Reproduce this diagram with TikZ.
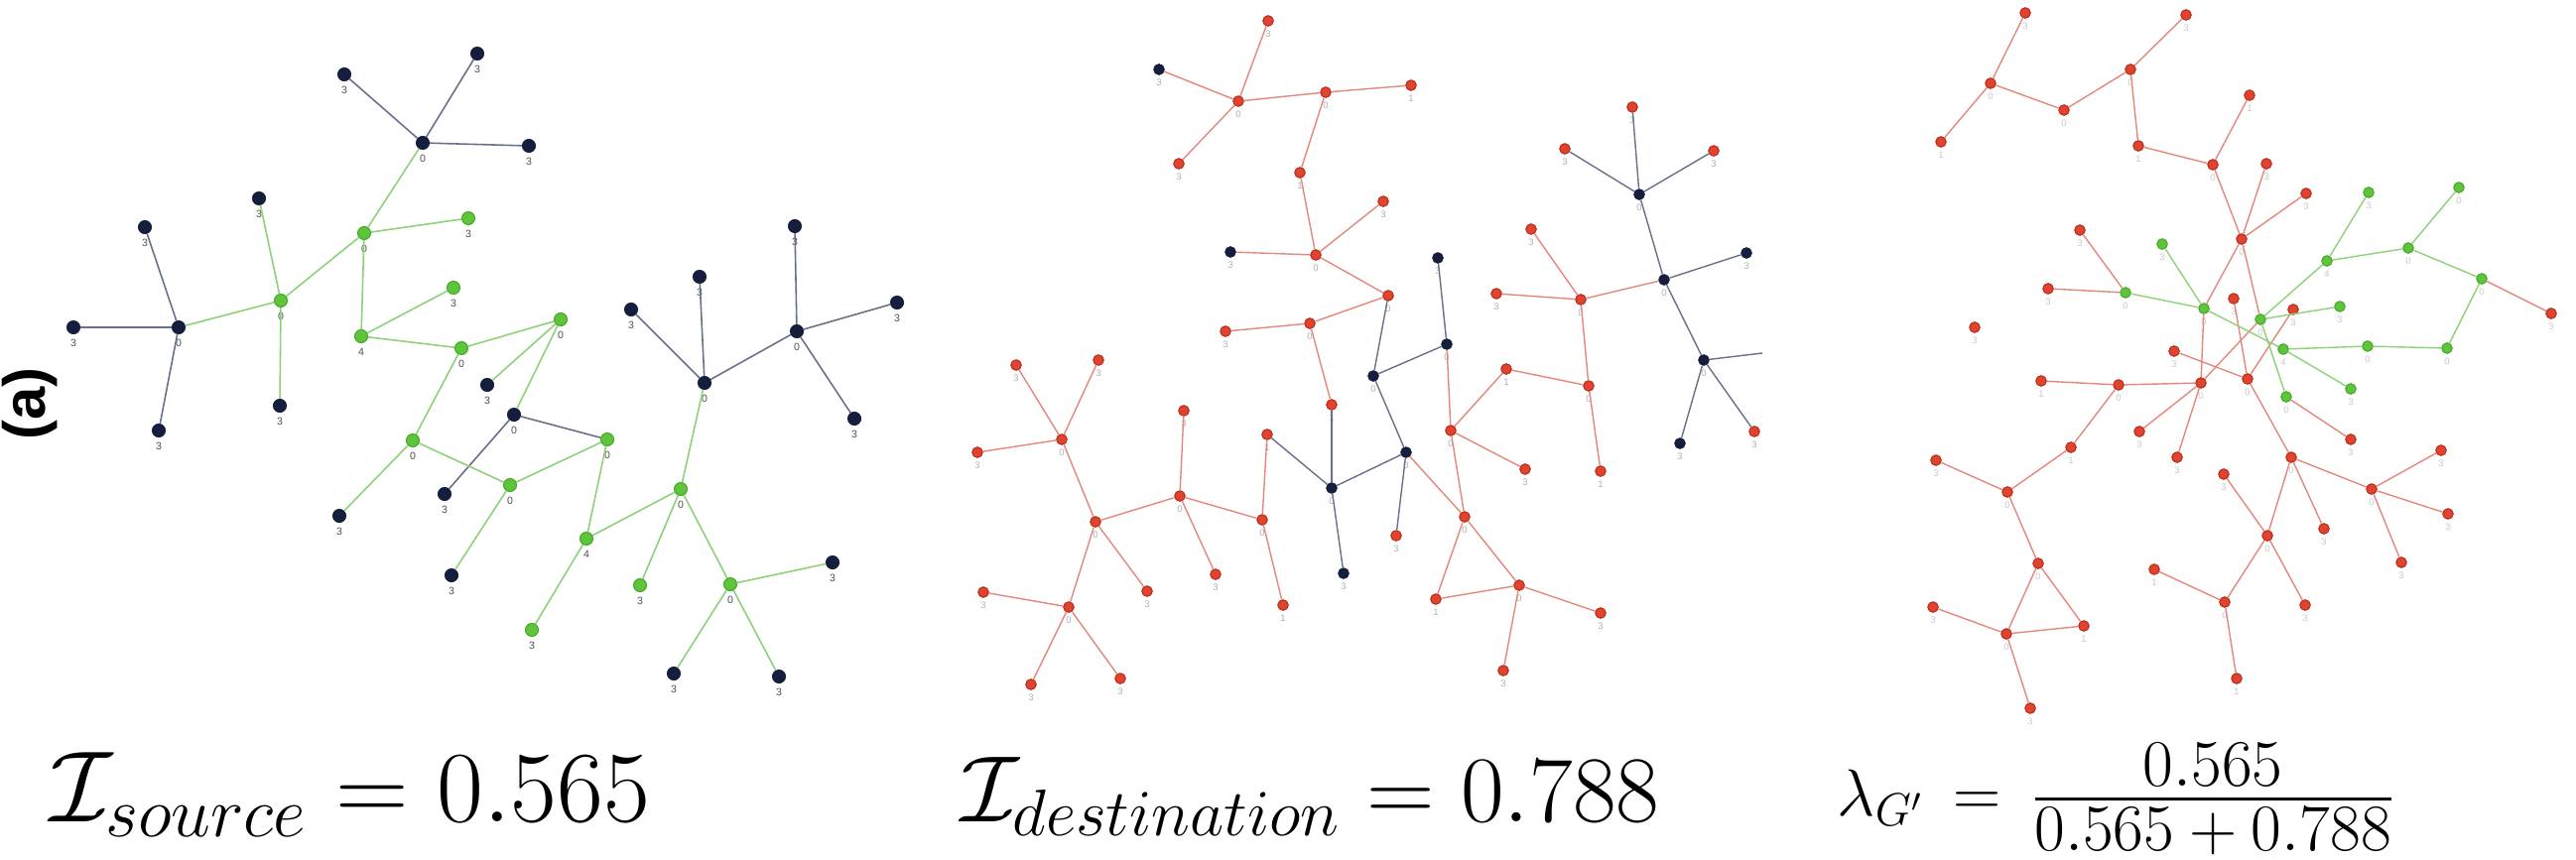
\RequirePackage{fix-cm}
\documentclass[tikz,border=0pt]{standalone}
\usepackage{amsmath}
\usepackage{fontspec}
\newfontfamily\tagfont{Liberation Sans}
\definecolor{nodenavy}{RGB}{22,30,62}
\definecolor{nodegreen}{RGB}{94,196,60}
\definecolor{rimgreen}{RGB}{70,168,42}
\definecolor{nodered}{RGB}{224,68,46}
\definecolor{rimred}{RGB}{186,44,28}
\definecolor{edgeslate}{RGB}{105,112,140}
\definecolor{edgegreen}{RGB}{140,210,120}
\definecolor{edgered}{RGB}{228,136,126}
\definecolor{tagdark}{RGB}{80,80,80}
\definecolor{taglight}{RGB}{175,175,175}
\definecolor{tagpale}{RGB}{200,200,200}
\tikzset{
x=0.01cm, y=-0.01cm, % one unit is one pixel of the figure, y runs downwards
every label/.style={font=\tagfont\fontsize{3}{3}\selectfont, text=tagdark, inner sep=0pt}, % the small count under each node
label distance=0.045cm,
bignavy/.style={circle, inner sep=0pt, minimum size=0.13cm, fill=nodenavy, draw=nodenavy, line width=0.3pt}, % nodes of the source graph
biggreen/.style={bignavy, fill=nodegreen, draw=rimgreen},
navydot/.style={circle, inner sep=0pt, minimum size=0.105cm, fill=nodenavy, draw=nodenavy, line width=0.3pt}, % nodes of the other two graphs
reddot/.style={navydot, fill=nodered, draw=rimred},
greendot/.style={navydot, fill=nodegreen, draw=rimgreen},
navyedge/.style={draw=edgeslate, line width=0.45pt},
greenedge/.style={draw=edgegreen, line width=0.45pt},
rededge/.style={draw=edgered, line width=0.4pt},
formula/.style={inner sep=0pt, anchor=base west},
}

\begin{document}
\begin{tikzpicture}
\useasboundingbox (0,0) rectangle (2596,866);

\node[rotate=90, font=\tagfont\bfseries\fontsize{17}{20}\selectfont] (tag) at (30,407) {(a)};

% source graph
\node[bignavy, label=below:3] (a1) at (481,54) {};
\node[bignavy, label=below:3] (a2) at (347,75) {};
\node[bignavy, label=below:0] (a3) at (426,144) {};
\node[bignavy, label=below:3] (a4) at (533,147) {};
\node[bignavy, label=below:3] (a5) at (261,200) {};
\node[biggreen, label=below:0] (a6) at (367,235) {};
\node[biggreen, label=below:3] (a7) at (472,220) {};
\node[bignavy, label=below:3] (a8) at (146,229) {};
\node[bignavy, label=below:0] (a9) at (180,330) {};
\node[bignavy, label=below:3] (a10) at (74,330) {};
\node[biggreen, label=below:0] (a11) at (283,303) {};
\node[biggreen, label=below:3] (a12) at (457,290) {};
\node[biggreen, label=below:4] (a13) at (364,339) {};
\node[biggreen, label=below:0] (a14) at (465,351) {};
\node[bignavy, label=below:3] (a15) at (160,434) {};
\node[bignavy, label=below:3] (a16) at (282,409) {};
\node[biggreen, label=below:0] (a17) at (565,322) {};
\node[bignavy, label=below:3] (a18) at (636,312) {};
\node[bignavy, label=below:3] (a19) at (705,279) {};
\node[bignavy, label=below:3] (a20) at (801,228) {};
\node[bignavy, label=below:0] (a21) at (803,334) {};
\node[bignavy, label=below:3] (a22) at (904,305) {};
\node[bignavy, label=below:0] (a23) at (710,386) {};
\node[bignavy, label=below:3] (a24) at (861,422) {};
\node[bignavy, label=below:3] (a25) at (491,388) {};
\node[bignavy, label=below:0] (a26) at (518,418) {};
\node[biggreen, label=below:0] (a27) at (612,443) {};
\node[biggreen, label=below:0] (a28) at (514,489) {};
\node[biggreen, label=below:4] (a29) at (591,543) {};
\node[biggreen, label=below:0] (a30) at (686,493) {};
\node[biggreen, label=below:3] (a31) at (645,590) {};
\node[biggreen, label=below:3] (a32) at (536,635) {};
\node[biggreen, label=below:0] (a33) at (736,589) {};
\node[bignavy, label=below:3] (a34) at (839,567) {};
\node[bignavy, label=below:3] (a35) at (679,679) {};
\node[bignavy, label=below:3] (a36) at (785,682) {};
\node[biggreen, label=below:0] (a37) at (416,444) {};
\node[bignavy, label=below:3] (a38) at (342,520) {};
\node[bignavy, label=below:3] (a39) at (455,580) {};
\node[bignavy, label=below:3] (a40) at (448,498) {};

\draw[navyedge] (a1) edge (a3) (a2) edge (a3) (a3) edge (a4)
  (a8) edge (a9) (a10) edge (a9) (a9) edge (a15)
  (a23) edge (a18) (a23) edge (a19) (a23) edge (a21)
  (a21) edge (a20) (a21) edge (a22) (a21) edge (a24)
  (a26) edge (a27) (a26) edge (a40);
\draw[greenedge] (a3) edge (a6) (a6) edge (a7) (a6) edge (a11)
  (a11) edge (a5) (a11) edge (a9) (a11) edge (a16)
  (a6) edge (a13) (a13) edge (a12) (a13) edge (a14)
  (a14) edge (a17) (a14) edge (a37) (a17) edge (a25) (a17) edge (a26)
  (a37) edge (a28) (a37) edge (a38) (a28) edge (a27) (a28) edge (a39)
  (a27) edge (a29) (a29) edge (a32) (a29) edge (a30)
  (a30) edge (a23) (a30) edge (a31) (a30) edge (a33)
  (a33) edge (a34) (a33) edge (a35) (a33) edge (a36);

% destination graph
\begin{scope}[every label/.append style={text=taglight, font=\tagfont\fontsize{2.7}{3}\selectfont}, label distance=0.035cm]
\node[reddot, label=below:3] (b1) at (1278,21) {};
\node[navydot, label=below:3] (b2) at (1168,70) {};
\node[reddot, label=below:0] (b3) at (1248,102) {};
\node[reddot, label=below:3] (b4) at (1188,165) {};
\node[reddot, label=below:0] (b5) at (1336,93) {};
\node[reddot, label=below:1] (b6) at (1422,86) {};
\node[reddot, label=below:1] (b7) at (1310,174) {};
\node[navydot, label=below:3] (b8) at (1240,254) {};
\node[reddot, label=below:0] (b9) at (1326,257) {};
\node[reddot, label=below:3] (b10) at (1394,203) {};
\node[reddot, label=below:0] (b11) at (1399,298) {};
\node[reddot, label=below:0] (b12) at (1320,326) {};
\node[reddot, label=below:3] (b13) at (1235,334) {};
\node[reddot, label=below:1] (b14) at (1342,408) {};
\node[reddot, label=below:3] (b15) at (1645,108) {};
\node[reddot, label=below:3] (b16) at (1577,150) {};
\node[reddot, label=below:3] (b17) at (1727,152) {};
\node[navydot, label=below:0] (b18) at (1652,196) {};
\node[navydot, label=below:0] (b19) at (1677,282) {};
\node[navydot, label=below:3] (b20) at (1760,255) {};
\node[reddot, label=below:0] (b21) at (1593,302) {};
\node[reddot, label=below:3] (b22) at (1543,231) {};
\node[reddot, label=below:3] (b23) at (1508,296) {};
\node[reddot, label=below:0] (b24) at (1601,389) {};
\node[navydot, label=below:0] (b25) at (1717,363) {};
\coordinate (b26) at (1776,356);
\node[navydot, label=below:3] (b27) at (1449,260) {};
\node[navydot, label=below:0] (b28) at (1458,347) {};
\node[reddot, label=below:1] (b29) at (1518,372) {};
\node[navydot, label=below:0] (b30) at (1384,379) {};
\node[navydot, label=below:0] (b31) at (1417,456) {};
\node[reddot, label=below:3] (b32) at (1407,540) {};
\node[reddot, label=below:0] (b33) at (1462,434) {};
\node[reddot, label=below:3] (b34) at (1537,473) {};
\node[reddot, label=below:0] (b35) at (1476,521) {};
\node[reddot, label=below:1] (b36) at (1447,604) {};
\node[reddot, label=below:0] (b37) at (1531,590) {};
\node[reddot, label=below:3] (b38) at (1613,618) {};
\node[reddot, label=below:3] (b39) at (1515,676) {};
\node[reddot, label=below:1] (b40) at (1613,475) {};
\node[navydot, label=below:3] (b41) at (1693,447) {};
\node[reddot, label=below:3] (b42) at (1768,435) {};
\node[reddot, label=below:3] (b43) at (1024,368) {};
\node[reddot, label=below:3] (b44) at (1107,363) {};
\node[reddot, label=below:0] (b45) at (1070,443) {};
\node[reddot, label=below:3] (b46) at (985,456) {};
\node[reddot, label=below:0] (b47) at (1104,526) {};
\node[reddot, label=below:0] (b48) at (1189,500) {};
\node[reddot, label=below:3] (b49) at (1193,414) {};
\node[reddot, label=below:3] (b50) at (1225,579) {};
\node[reddot, label=below:0] (b51) at (1272,524) {};
\node[reddot, label=below:1] (b52) at (1277,438) {};
\node[reddot, label=below:1] (b53) at (1293,610) {};
\node[navydot, label=below:0] (b54) at (1342,492) {};
\node[navydot, label=below:3] (b55) at (1354,578) {};
\node[reddot, label=below:3] (b56) at (1156,596) {};
\node[reddot, label=below:0] (b57) at (1077,612) {};
\node[reddot, label=below:3] (b58) at (991,597) {};
\node[reddot, label=below:3] (b59) at (1039,690) {};
\node[reddot, label=below:3] (b60) at (1129,684) {};
\end{scope}

\draw[rededge] (b1) edge (b3) (b2) edge (b3) (b4) edge (b3) (b3) edge (b5)
  (b5) edge (b6) (b5) edge (b7) (b7) edge (b9) (b8) edge (b9)
  (b9) edge (b10) (b9) edge (b11) (b12) edge (b11) (b13) edge (b12) (b12) edge (b14)
  (b21) edge (b19) (b21) edge (b22) (b21) edge (b23) (b21) edge (b24)
  (b24) edge (b29) (b24) edge (b40) (b29) edge (b33) (b28) edge (b33)
  (b33) edge (b34) (b33) edge (b35) (b31) edge (b35)
  (b35) edge (b36) (b35) edge (b37) (b36) edge (b37) (b37) edge (b38) (b37) edge (b39)
  (b43) edge (b45) (b44) edge (b45) (b46) edge (b45) (b45) edge (b47)
  (b47) edge (b48) (b47) edge (b56) (b47) edge (b57)
  (b57) edge (b58) (b57) edge (b59) (b57) edge (b60)
  (b48) edge (b49) (b48) edge (b50) (b48) edge (b51) (b51) edge (b52) (b51) edge (b53);
\draw[navyedge, line width=0.4pt] (b18) edge (b15) (b18) edge (b16) (b18) edge (b17) (b18) edge (b19)
  (b19) edge (b20) (b19) edge (b25) (b25) edge (b26) (b25) edge (b41) (b25) edge (b42)
  (b27) edge (b28) (b28) edge (b30) (b11) edge (b30) (b30) edge (b31)
  (b31) edge (b32) (b31) edge (b54) (b52) edge (b54) (b14) edge (b54) (b54) edge (b55);

% combined graph
\begin{scope}[every label/.append style={text=tagpale, font=\tagfont\fontsize{2.7}{3}\selectfont}, label distance=0.035cm]
\node[reddot, label=below:3] (c1) at (2041,13) {};
\node[reddot, label=below:0] (c2) at (2006,84) {};
\node[reddot, label=below:1] (c3) at (1956,143) {};
\node[reddot, label=below:0] (c4) at (2080,111) {};
\node[reddot, label=below:0] (c5) at (2147,70) {};
\node[reddot, label=below:3] (c6) at (2203,15) {};
\node[reddot, label=below:1] (c7) at (2155,147) {};
\node[reddot, label=below:0] (c8) at (2230,166) {};
\node[reddot, label=below:1] (c9) at (2267,96) {};
\node[reddot, label=below:0] (c10) at (2259,241) {};
\node[reddot, label=below:3] (c11) at (2096,232) {};
\node[greendot, label=below:3] (c12) at (2179,246) {};
\node[greendot, label=below:0] (c13) at (2142,295) {};
\node[reddot, label=below:3] (c14) at (2064,291) {};
\node[greendot, label=below:0] (c15) at (2221,311) {};
\node[reddot, label=below:3] (c16) at (1990,330) {};
\node[reddot, label=below:3] (c17) at (2251,301) {};
\node[reddot, label=below:3] (c18) at (2191,354) {};
\node[reddot, label=below:3] (c19) at (2284,165) {};
\node[reddot, label=below:3] (c20) at (2324,195) {};
\node[greendot, label=below:0] (c21) at (2278,322) {};
\node[greendot, label=below:4] (c22) at (2345,263) {};
\node[greendot, label=below:3] (c23) at (2387,194) {};
\node[greendot, label=below:0] (c24) at (2427,250) {};
\node[greendot, label=below:0] (c25) at (2478,189) {};
\node[greendot, label=below:0] (c26) at (2501,281) {};
\node[reddot, label=below:3] (c27) at (2571,316) {};
\node[reddot, label=below:3] (c28) at (2311,312) {};
\node[greendot, label=below:3] (c29) at (2358,309) {};
\node[greendot, label=below:4] (c30) at (2301,352) {};
\node[greendot, label=below:0] (c31) at (2386,349) {};
\node[greendot, label=below:0] (c32) at (2466,351) {};
\node[reddot, label=below:1] (c33) at (2057,384) {};
\node[reddot, label=below:0] (c34) at (2135,388) {};
\node[reddot, label=below:0] (c35) at (2218,386) {};
\node[reddot, label=below:0] (c36) at (2265,382) {};
\node[reddot, label=below:3] (c37) at (2156,435) {};
\node[reddot, label=below:3] (c38) at (2194,461) {};
\node[reddot, label=below:1] (c39) at (2087,451) {};
\node[reddot, label=below:3] (c40) at (1951,464) {};
\node[reddot, label=below:0] (c41) at (2023,496) {};
\node[reddot, label=below:0] (c42) at (2054,568) {};
\node[reddot, label=below:3] (c43) at (1948,612) {};
\node[reddot, label=below:0] (c44) at (2022,639) {};
\node[reddot, label=below:1] (c45) at (2100,631) {};
\node[reddot, label=below:3] (c46) at (2046,714) {};
\node[reddot, label=below:3] (c47) at (2241,478) {};
\node[reddot, label=below:1] (c48) at (2171,574) {};
\node[reddot, label=below:0] (c49) at (2242,607) {};
\node[reddot, label=below:1] (c50) at (2254,684) {};
\node[greendot, label=below:0] (c51) at (2304,400) {};
\node[greendot, label=below:3] (c52) at (2369,392) {};
\node[reddot, label=below:3] (c53) at (2369,443) {};
\node[reddot, label=below:0] (c54) at (2309,461) {};
\node[reddot, label=below:0] (c55) at (2390,493) {};
\node[reddot, label=below:3] (c56) at (2460,454) {};
\node[reddot, label=below:3] (c57) at (2467,518) {};
\node[reddot, label=below:3] (c58) at (2420,567) {};
\node[reddot, label=below:3] (c59) at (2342,533) {};
\node[reddot, label=below:0] (c60) at (2285,540) {};
\node[reddot, label=below:3] (c61) at (2323,610) {};
\end{scope}

\draw[rededge] (c1) edge (c2) (c2) edge (c3) (c2) edge (c4) (c4) edge (c5)
  (c5) edge (c6) (c5) edge (c7) (c7) edge (c8) (c8) edge (c9) (c8) edge (c10)
  (c10) edge (c19) (c10) edge (c20) (c10) edge (c15) (c10) edge (c21)
  (c11) edge (c13) (c14) edge (c13) (c26) edge (c27)
  (c15) edge (c35) (c35) edge (c21) (c17) edge (c36) (c18) edge (c36) (c28) edge (c36)
  (c33) edge (c34) (c34) edge (c35) (c35) edge (c37) (c35) edge (c38)
  (c34) edge (c39) (c39) edge (c41) (c41) edge (c40) (c41) edge (c42)
  (c42) edge (c44) (c42) edge (c45) (c44) edge (c45) (c44) edge (c43) (c44) edge (c46)
  (c48) edge (c49) (c49) edge (c50) (c49) edge (c60) (c47) edge (c60) (c51) edge (c53)
  (c36) edge (c54) (c54) edge (c55) (c55) edge (c56) (c55) edge (c57) (c55) edge (c58)
  (c54) edge (c59) (c54) edge (c60) (c60) edge (c61);
\draw[greenedge, line width=0.4pt] (c13) edge (c15) (c12) edge (c15) (c15) edge (c30)
  (c21) edge (c22) (c22) edge (c23) (c22) edge (c24) (c24) edge (c25) (c24) edge (c26)
  (c26) edge (c32) (c32) edge (c31) (c31) edge (c30)
  (c21) edge (c29) (c21) edge (c51) (c30) edge (c52);

% captions under the graphs
\node[formula, font=\fontsize{29}{33}\selectfont] (srcval) at (50,828) {$\mathcal{I}_{source} = 0.565$};
\node[formula, font=\fontsize{27}{31}\selectfont] (dstval) at (968,828) {$\mathcal{I}_{destination} = 0.788$};
\node[formula, font=\fontsize{19}{23}\selectfont] (ratio) at (1851,822) {$\lambda_{G'} \,=\, \dfrac{\raisebox{-4.5pt}{$0.565$}}{\raisebox{3pt}{$0.565+0.788$}}$};
\end{tikzpicture}
\end{document}
